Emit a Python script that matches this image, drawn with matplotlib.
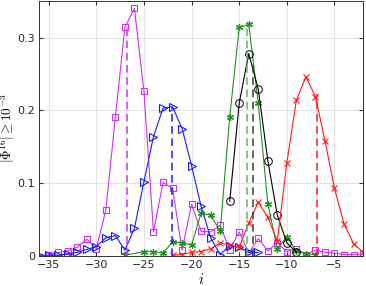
import matplotlib
matplotlib.use('Agg')
import matplotlib.pyplot as plt

plt.rcParams['mathtext.fontset'] = 'cm'
plt.rcParams['font.family'] = 'DejaVu Sans'

# site index and values for each curve
i_mag = [-35, -34, -33, -32, -31, -30, -29, -28, -27, -26, -25, -24, -23, -22, -21, -20,
         -19, -18, -17, -16, -15, -14, -13, -12, -11, -10, -9, -8, -7, -6, -5, -4, -3, -2]
v_mag = [0.002, 0.005, 0.007, 0.012, 0.023, 0.010, 0.063, 0.191, 0.314, 0.340, 0.226, 0.033,
         0.101, 0.093, 0.008, 0.071, 0.034, 0.033, 0.042, 0.008, 0.033, 0.004, 0.024, 0.007,
         0.018, 0.006, 0.010, 0.002, 0.008, 0.005, 0.004, 0.002, 0.002, 0.003]

i_blue = [-36, -35, -34, -33, -32, -31, -30, -29, -28, -27, -26, -25, -24, -23, -22, -21,
          -20, -19, -18, -17, -16, -15, -14, -13]
v_blue = [0.001, 0.001, 0.001, 0.003, 0.005, 0.009, 0.013, 0.025, 0.028, 0.008, 0.038, 0.102,
          0.164, 0.203, 0.205, 0.175, 0.124, 0.068, 0.025, 0.002, 0.014, 0.012, 0.005, 0.005]

i_green = [-27, -25, -24, -23, -22, -21, -20, -19, -18, -17, -16, -15, -14, -13, -12, -11,
           -10, -9, -8, -7]
v_green = [0.001, 0.006, 0.006, 0.004, 0.019, 0.018, 0.015, 0.059, 0.056, 0.034, 0.191,
           0.314, 0.318, 0.210, 0.072, 0.010, 0.026, 0.007, 0.003, 0.002]

i_black = [-16, -15, -14, -13, -12, -11, -10, -9]
v_black = [0.075, 0.210, 0.278, 0.229, 0.131, 0.056, 0.018, 0.005]

i_red = [-22, -21, -20, -19, -18, -17, -16, -15, -14, -13, -12, -11, -10, -9, -8, -7, -6,
         -5, -4, -3, -2]
v_red = [0.001, 0.002, 0.005, 0.006, 0.010, 0.018, 0.015, 0.012, 0.045, 0.074, 0.053, 0.021,
         0.128, 0.214, 0.246, 0.219, 0.158, 0.093, 0.044, 0.017, 0.005]

# dashed markers: position and height
dash_x = [-26.8, -22.1, -14.2, -13.6, -6.85]
dash_h = [0.318, 0.205, 0.318, 0.262, 0.222]

c_mag = '#cc33ee'
c_blue = '#1a1aff'
c_green = '#1f8f1f'
c_black = '#000000'
c_red = '#ff1a1a'
dash_cols = [c_mag, c_blue, '#5cb85c', '#3a3a3a', c_red]

fig = plt.figure(figsize=(3.66, 2.86), dpi=100)
ax = fig.add_axes([0.107, 0.105, 0.885, 0.891])

lw = 0.8
ax.plot(i_mag, v_mag, color=c_mag, lw=lw, marker='s', ms=4.5, mfc='none', mew=0.8)
ax.plot(i_blue, v_blue, color=c_blue, lw=lw, marker='>', ms=6, mfc='none', mew=0.8)
ax.plot(i_green, v_green, color=c_green, lw=lw, marker=(6, 2, 0), ms=5, mew=0.9)
ax.plot(i_black, v_black, color=c_black, lw=lw, marker='o', ms=5.5, mfc='none', mew=0.7)
ax.plot(i_red, v_red, color=c_red, lw=lw, marker='x', ms=4, mew=0.8)

for x, h, c in zip(dash_x, dash_h, dash_cols):
    ax.plot([x, x], [0, h], color=c, lw=1.1, ls=(0, (5, 3)))

ax.set_xlim(-36, -2)
ax.set_ylim(0, 0.35)
ax.set_xticks([-35, -30, -25, -20, -15, -10, -5])
ax.set_yticks([0, 0.1, 0.2, 0.3])
ax.set_yticklabels(['0', '0.1', '0.2', '0.3'])
ax.grid(True, color='#e3e3e3', lw=0.7)
ax.set_axisbelow(True)
ax.tick_params(direction='in', top=True, right=True, labelsize=8, length=3,
               color='#333333', labelcolor='#262626', pad=3)
for s in ax.spines.values():
    s.set_color('#333333')
    s.set_linewidth(0.7)

ax.set_xlabel('$i$', fontsize=10.5)
ax.set_ylabel(r'$|\Phi^{16}| \geq 10^{-3}$', fontsize=9.5)
ax.xaxis.set_label_coords(0.5, -0.064)
ax.yaxis.set_label_coords(-0.068, 0.5)

fig.savefig('out.png', dpi=100)
